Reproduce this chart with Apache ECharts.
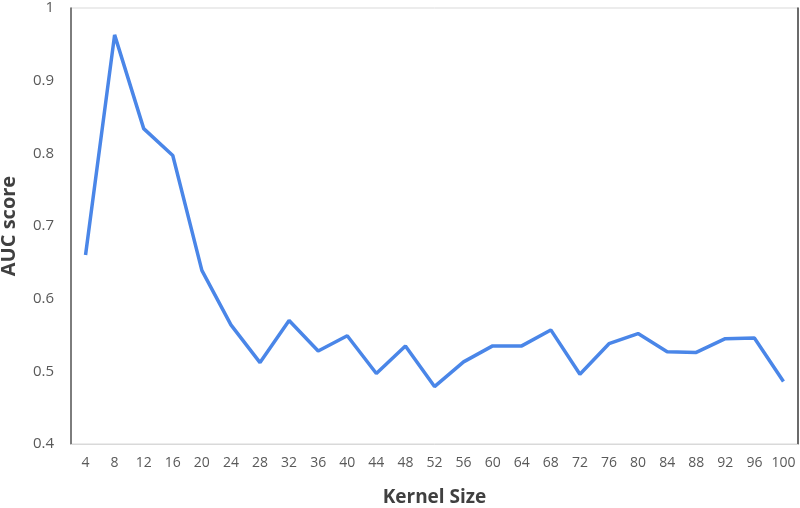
<!DOCTYPE html>
<html>
<head>
<meta charset="utf-8">
<script src="https://cdn.jsdelivr.net/npm/echarts@6/dist/echarts.min.js"></script>
<style>html,body{margin:0;padding:0;background:#fff;}#c{width:800px;height:508px;}</style>
</head>
<body>
<div id="c"></div>
<script>
const kernelSizes = ['4','8','12','16','20','24','28','32','36','40','44','48','52','56','60','64','68','72','76','80','84','88','92','96','100'];
const aucScores = [0.660,0.963,0.834,0.797,0.639,0.564,0.512,0.570,0.528,0.549,0.497,0.535,0.479,0.513,0.535,0.535,0.557,0.496,0.538,0.552,0.527,0.526,0.545,0.546,0.486];
const yTicks = {min:0.4, max:1, interval:0.1};

const chart = echarts.init(document.getElementById('c'));
const font = '"Open Sans", sans-serif';
chart.setOption({
  animation:false,
  grid:{left:71, right:2, top:8, bottom:64, show:true, borderColor:'#d9d9d9', borderWidth:1, containLabel:false, outerBoundsMode:'none'},
  xAxis:{
    type:'category', data:kernelSizes, boundaryGap:true,
    axisLine:{lineStyle:{color:'#d9d9d9'}}, axisTick:{show:false},
    axisLabel:{color:'#595959', fontSize:14, fontFamily:font, margin:12, interval:0},
    name:'Kernel Size', nameLocation:'middle', nameGap:44,
    nameTextStyle:{color:'#404040', fontSize:19, fontWeight:'bold', fontFamily:font}
  },
  yAxis:[{
    type:'value', min:yTicks.min, max:yTicks.max, interval:yTicks.interval,
    axisLine:{show:true, lineStyle:{color:'#595959', width:1.5}}, axisTick:{show:false},
    splitLine:{show:false},
    axisLabel:{color:'#595959', fontSize:15, fontFamily:font, margin:17, formatter:v=>String(+v.toFixed(1))},
    name:'AUC score', nameLocation:'middle', nameGap:52, nameRotate:90,
    nameTextStyle:{color:'#404040', fontSize:20, fontWeight:'bold', fontFamily:font}
  },{
    type:'value', position:'right', min:yTicks.min, max:yTicks.max, interval:yTicks.interval,
    axisLine:{show:true, lineStyle:{color:'#404040', width:1.5}}, axisTick:{show:false},
    axisLabel:{show:false}, splitLine:{show:false}
  }],
  series:[{
    type:'line', data:aucScores, yAxisIndex:0, symbol:'none',
    lineStyle:{color:'#4a86e8', width:3.5}
  }]
});
</script>
</body>
</html>
